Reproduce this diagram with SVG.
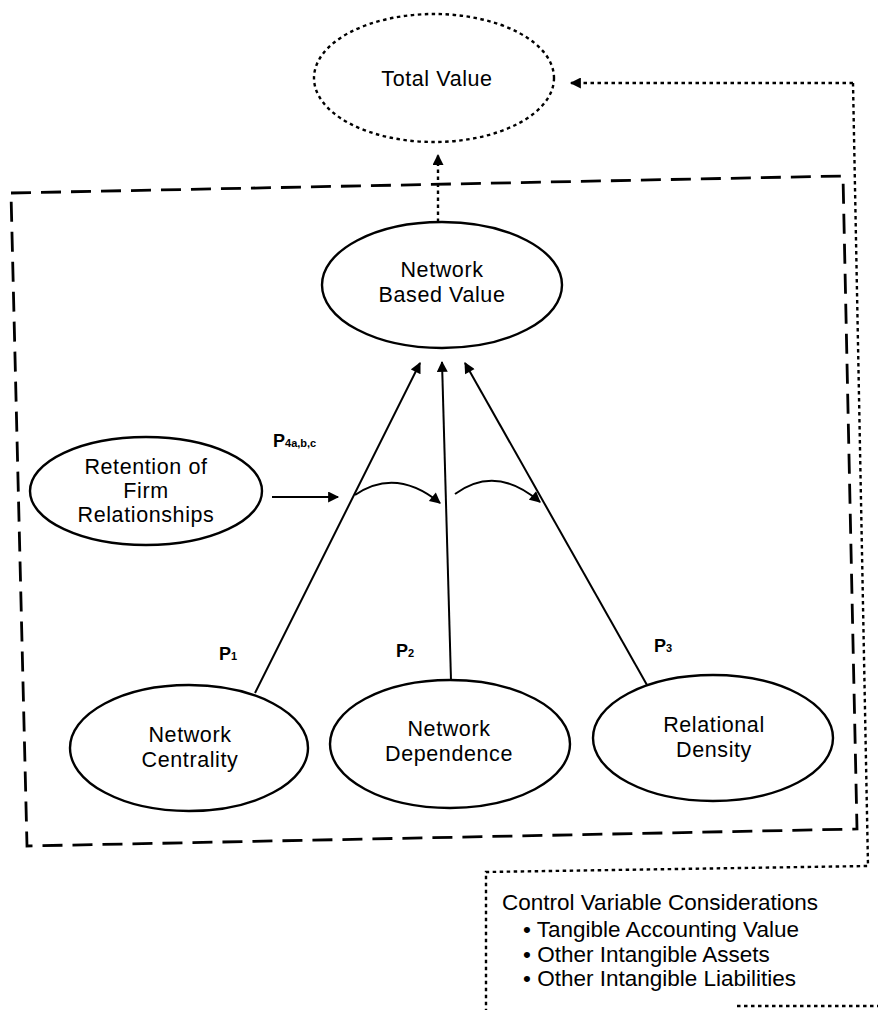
<svg xmlns="http://www.w3.org/2000/svg" width="878" height="1010" viewBox="0 0 878 1010">
<style>
text{font-family:"Liberation Sans",Arial,sans-serif;fill:#000;}
.t{font-size:21.5px;letter-spacing:0.6px;text-anchor:middle;}
.node{fill:none;stroke:#000;stroke-width:2.4;}
.dot{fill:none;stroke:#000;stroke-width:2.4;stroke-dasharray:3.5 3.5;}
.dash{fill:none;stroke:#000;stroke-width:2.8;stroke-dasharray:20 10;}
.edge{fill:none;stroke:#000;stroke-width:2;}
.p{font-size:18px;font-weight:bold;}
.sub{font-size:11px;font-weight:bold;}
.cv{font-size:22.5px;}
</style>
<defs>
<marker id="ahb" viewBox="0 0 10 10" refX="9" refY="5" markerWidth="13" markerHeight="11" markerUnits="userSpaceOnUse" orient="auto"><path d="M0,0 L10,5 L0,10 Z" fill="#000"/></marker>
</defs>
<g id="boundary">
<polygon class="dash" points="11,193 843,176 857,829 27,846"/>
</g>
<g id="control-box">
<path class="dot" d="M853,83 L868,866 L486,872 L486,1010"/>
<path class="dot" d="M737,1006 L878,1006"/>
<text class="cv" x="502" y="910">Control Variable Considerations</text>
<text class="cv" x="523" y="937">• Tangible Accounting Value</text>
<text class="cv" x="523" y="962">• Other Intangible Assets</text>
<text class="cv" x="523" y="986">• Other Intangible Liabilities</text>
</g>
<g id="connectors">
<path class="dot" d="M853,83 L571,83" marker-end="url(#ahb)"/>
<path class="dot" d="M438,222 L438,155" marker-end="url(#ahb)"/>
<path class="edge" d="M255,693 L420,363" marker-end="url(#ahb)"/>
<path class="edge" d="M451,680 L442,362" marker-end="url(#ahb)"/>
<path class="edge" d="M647,685 L465,363" marker-end="url(#ahb)"/>
<path class="edge" d="M272,497 L338,497" marker-end="url(#ahb)"/>
<path class="edge" d="M355,495 Q396,467 440,503" marker-end="url(#ahb)"/>
<path class="edge" d="M455,494 Q496,464 540,502" marker-end="url(#ahb)"/>
</g>
<g id="labels">
<text x="273" y="447"><tspan class="p">P</tspan><tspan class="sub">4a,b,c</tspan></text>
<text x="219" y="660"><tspan class="p">P</tspan><tspan class="sub">1</tspan></text>
<text x="396" y="657"><tspan class="p">P</tspan><tspan class="sub">2</tspan></text>
<text x="654" y="652"><tspan class="p">P</tspan><tspan class="sub">3</tspan></text>
</g>
<g id="total-value">
<ellipse class="dot" cx="434" cy="78" rx="120" ry="64"/>
<text class="t" x="437" y="86">Total Value</text>
</g>
<g id="network-based-value">
<ellipse class="node" cx="442" cy="285" rx="120" ry="63"/>
<text class="t" x="442" y="277">Network</text>
<text class="t" x="442" y="302">Based Value</text>
</g>
<g id="retention">
<ellipse class="node" cx="146" cy="491" rx="116" ry="54"/>
<text class="t" x="146" y="474">Retention of</text>
<text class="t" x="146" y="498">Firm</text>
<text class="t" x="146" y="522">Relationships</text>
</g>
<g id="network-centrality">
<ellipse class="node" cx="189" cy="748" rx="119" ry="63"/>
<text class="t" x="190" y="742">Network</text>
<text class="t" x="190" y="767">Centrality</text>
</g>
<g id="network-dependence">
<ellipse class="node" cx="450" cy="744" rx="120" ry="64"/>
<text class="t" x="449" y="736">Network</text>
<text class="t" x="449" y="761">Dependence</text>
</g>
<g id="relational-density">
<ellipse class="node" cx="713" cy="738" rx="120" ry="63"/>
<text class="t" x="714" y="732">Relational</text>
<text class="t" x="714" y="757">Density</text>
</g>
</svg>
